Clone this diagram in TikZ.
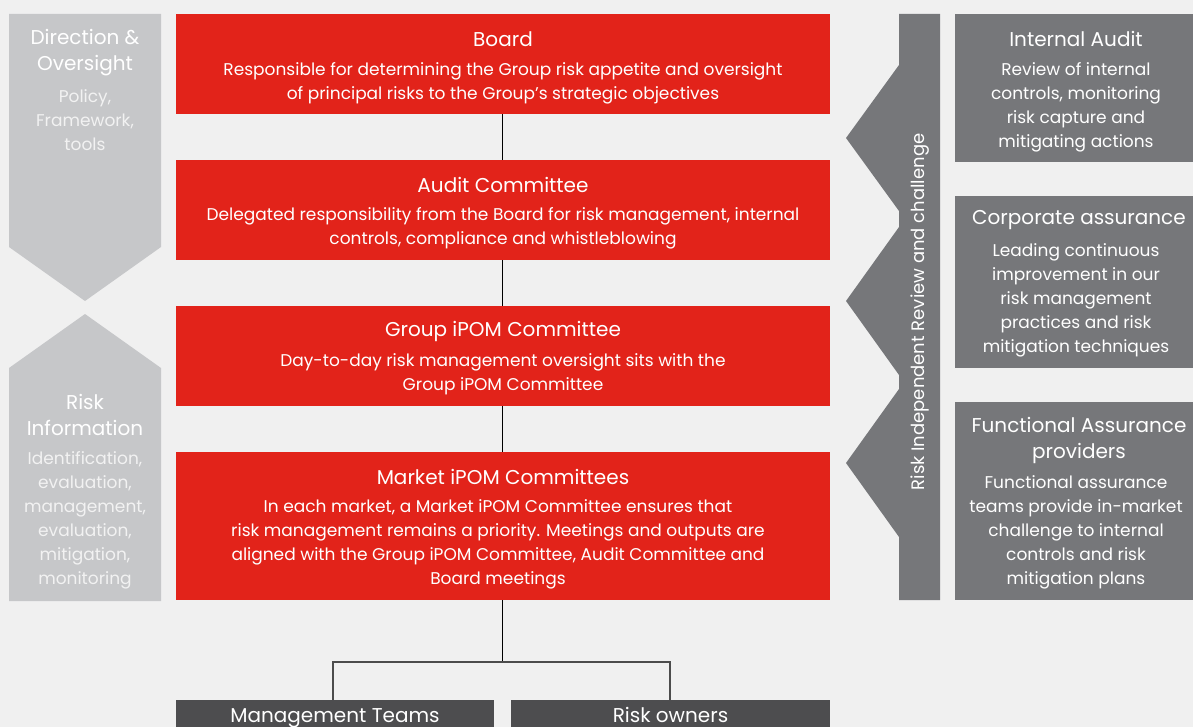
\documentclass[tikz,border=0pt]{standalone}
\usepackage{fontspec}
\setmainfont{Poppins}
\definecolor{bg}{HTML}{F0F0F0}
\definecolor{rred}{HTML}{E2231A}
\definecolor{lgrey}{HTML}{C6C7C9}
\definecolor{mgrey}{HTML}{76777A}
\definecolor{dgrey}{HTML}{4D4D4F}
\definecolor{softw}{HTML}{F2F2F2}
\tikzset{
  redbox/.style={fill=rred, minimum width=654pt, inner sep=0pt},
  rbox/.style={fill=mgrey, minimum width=238pt, inner sep=0pt},
  dbox/.style={fill=dgrey, inner sep=0pt, minimum height=40pt},
  ttl/.style={text=white, font=\fontsize{20}{26}\selectfont, align=center, inner sep=0pt},
  bdy/.style={text=white, font=\fontsize{17}{24}\selectfont, align=center, inner sep=0pt},
  lbdy/.style={text=softw, font=\fontsize{17}{24}\selectfont, align=center, inner sep=0pt},
  vtxt/.style={text=white, font=\fontsize{18}{24}\selectfont, inner sep=0pt, rotate=90},
  link/.style={draw=black, line width=0.8pt},
  blink/.style={draw=black!70, line width=1.2pt},
}
\begin{document}
\begin{tikzpicture}[x=1pt,y=-1pt]
\useasboundingbox[fill=bg] (0,0) rectangle (1193,727);
% left arrows
\fill[lgrey] (9,14) -- (161,14) -- (161,247) -- (85,301) -- (9,247) -- cycle;
\fill[lgrey] (85,314) -- (161,368) -- (161,601) -- (9,601) -- (9,368) -- cycle;
\node[ttl] (dirt) at (85,53) {Direction \&\\Oversight};
\node[lbdy] (dirb) at (85,120) {Policy,\\Framework,\\tools};
\node[ttl] (rit) at (85,415) {Risk\\Information};
\node[lbdy] (rib) at (85,520) {Identification,\\evaluation,\\management,\\evaluation,\\mitigation,\\monitoring};
% red boxes
\node[redbox, minimum height=100pt] (board) at (503,64) {};
\node[redbox, minimum height=100pt] (audit) at (503,210) {};
\node[redbox, minimum height=100pt] (group) at (503,356) {};
\node[redbox, minimum height=148pt] (market) at (503,526) {};
\node[ttl] at (503,39) {Board};
\node[bdy] at (503,83) {Responsible for determining the Group risk appetite and oversight\\of principal risks to the Group’s strategic objectives};
\node[ttl] at (503,185) {Audit Committee};
\node[bdy] at (503,228) {Delegated responsibility from the Board for risk management, internal\\controls, compliance and whistleblowing};
\node[ttl] at (503,331) {Group iPOM Committee};
\node[bdy] at (503,374) {Day-to-day risk management oversight sits with the\\Group iPOM Committee};
\node[ttl] at (503,477) {Market iPOM Committees};
\node[bdy] at (498,544) {In each market, a Market iPOM Committee ensures that\\risk management remains a priority. Meetings and outputs are\\aligned with the Group iPOM Committee, Audit Committee and\\Board meetings};
% bottom boxes
\node[dbox, minimum width=318pt, anchor=north] (mgmt) at (335,700) {};
\node[dbox, minimum width=319pt, anchor=north] (owners) at (670.5,700) {};
\node[ttl, anchor=base] at (335,722) {Management Teams};
\node[ttl, anchor=base] at (670.5,722) {Risk owners};
% connectors
\draw[link] (board.south -| 502,0) -- (audit.north -| 502,0);
\draw[link] (audit.south -| 502,0) -- (group.north -| 502,0);
\draw[link] (group.south -| 502,0) -- (market.north -| 502,0);
\coordinate (split) at (502,662);
\draw[link] (market.south -| split) -- (split);
\draw[blink] (split) -| (mgmt.north -| 333,0);
\draw[blink] (split) -| (owners.north -| 670,0);
% right chevron bar
\fill[mgrey] (940,14) -- (940,600) -- (899,600) -- (899,537) -- (846,463) -- (899,389)
  -- (899,375) -- (846,301) -- (899,227) -- (899,211) -- (846,138) -- (899,65) -- (899,14) -- cycle;
\node[vtxt] (riskrev) at (920,312) {Risk Independent Review and challenge};
% right boxes
\node[rbox, minimum height=148pt] (ia) at (1074,88) {};
\node[rbox, minimum height=172pt] (ca) at (1074,282) {};
\node[rbox, minimum height=198pt] (fa) at (1074,501) {};
\node[ttl] at (1076,39) {Internal Audit};
\node[bdy] at (1076,107) {Review of internal\\controls, monitoring\\risk capture and\\mitigating actions};
\node[ttl] at (1079,220) {Corporate assurance};
\node[bdy] at (1076,300) {Leading continuous\\improvement in our\\risk management\\practices and risk\\mitigation techniques};
\node[ttl] at (1079,440) {Functional Assurance\\providers};
\node[bdy] at (1076,532) {Functional assurance\\teams provide in-market\\challenge to internal\\controls and risk\\mitigation plans};
\end{tikzpicture}
\end{document}
